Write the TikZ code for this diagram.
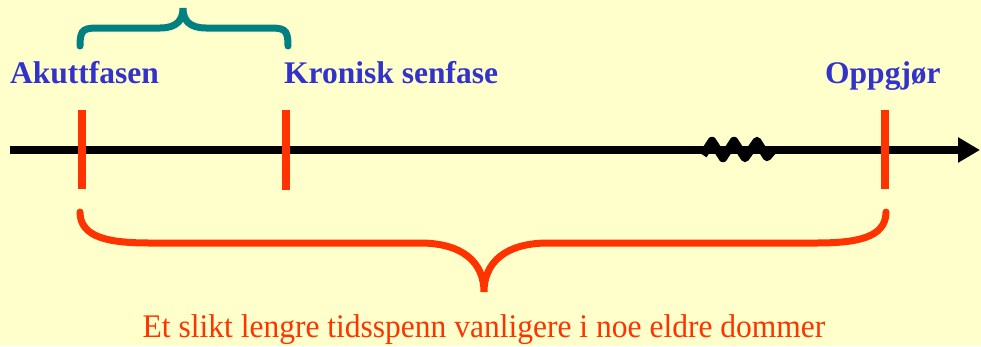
\documentclass[tikz,border=0pt]{standalone}
\usepackage{fontspec}
\setmainfont{Liberation Serif}
\usetikzlibrary{arrows.meta}
\definecolor{bgyellow}{HTML}{FFFFCC}
\definecolor{lblblue}{HTML}{3333CC}
\definecolor{braceteal}{HTML}{008080}
\definecolor{markred}{HTML}{FF3300}
\tikzset{
  lbl/.style={font=\fontsize{31.5}{36}\selectfont\bfseries, text=lblblue, inner sep=0pt, anchor=base west},
  note/.style={font=\fontsize{33}{38}\selectfont, text=markred, inner sep=0pt, anchor=base},
  tick/.style={draw=markred, line width=7.5pt},
  axisline/.style={draw=black, line width=8pt, -{Triangle[length=22pt,width=24pt]}},
  wave/.style={draw=black, line width=8.5pt, line join=round},
  tealbrace/.style={draw=braceteal, line width=7pt, line cap=round},
  redbrace/.style={draw=markred, line width=7pt, line cap=round}
}
\begin{document}
\begin{tikzpicture}[x=1pt,y=-1pt]
\fill[bgyellow] (0,0) rectangle (981,346);
\useasboundingbox (0,0) rectangle (981,346);
% labels
\node[lbl] (akutt) at (10,83) {Akuttfasen};
\node[lbl] (kron) at (284,83) {Kronisk senfase};
\node[lbl] (opp) at (825,83) {Oppgjør};
\node[note] (note) at (484,337) {\scalebox{0.955}[1]{Et slikt lengre tidsspenn vanligere i noe eldre dommer}};
% axis
\coordinate (start) at (10,150);
\coordinate (end) at (980,150);
\draw[axisline] (start) -- (end);
% wave
\draw[wave] (703,155) -- (712,141) -- (723,158) -- (734,141) -- (745,158) -- (757,141) -- (767,157) -- (774,149);
% ticks
\coordinate (t1a) at (82,110); \coordinate (t1b) at (82,189);
\coordinate (t2a) at (286,110); \coordinate (t2b) at (286,190);
\coordinate (t3a) at (885,110); \coordinate (t3b) at (885,189);
\draw[tick] (t1a) -- (t1b);
\draw[tick] (t2a) -- (t2b);
\draw[tick] (t3a) -- (t3b);
% teal brace
\draw[tealbrace] (80,46) .. controls (80,28) and (84,28) .. (102,28) -- (160,28)
  .. controls (177,28) and (183,20) .. (183,8)
  .. controls (183,20) and (189,28) .. (206,28) -- (266,28)
  .. controls (284,28) and (288,28) .. (288,46);
% red brace
\draw[redbrace] (80,212) .. controls (80,238) and (110,243) .. (150,243) -- (420,243)
  .. controls (462,243) and (484,262) .. (484,292)
  .. controls (484,262) and (506,243) .. (548,243) -- (816,243)
  .. controls (856,243) and (886,238) .. (886,212);
\end{tikzpicture}
\end{document}
